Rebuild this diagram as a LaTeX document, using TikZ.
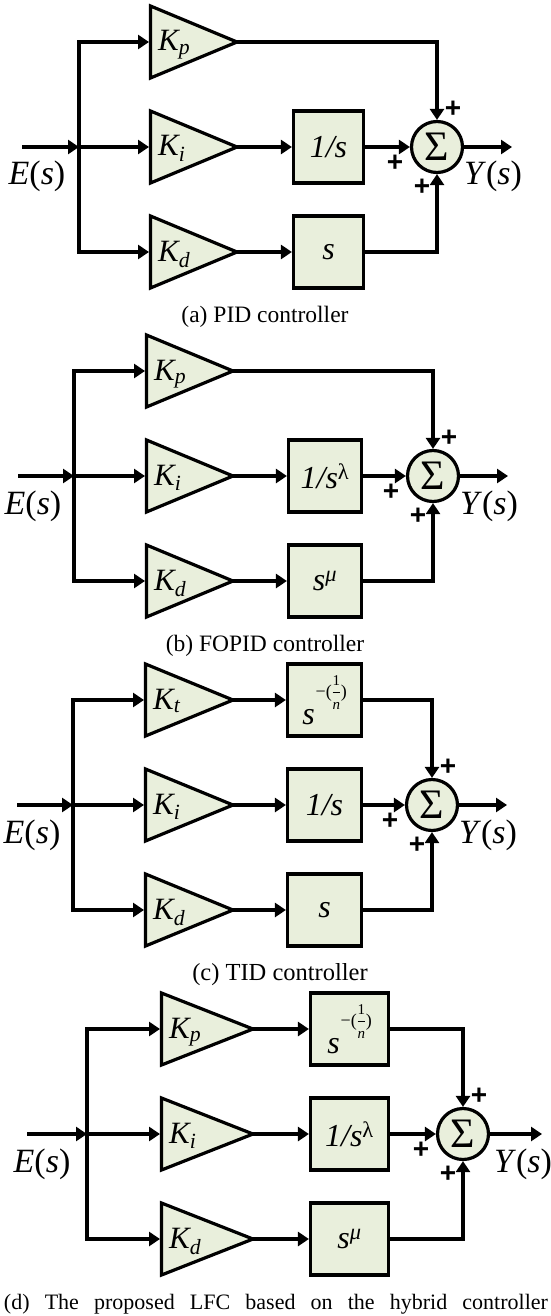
\documentclass[tikz,border=0pt]{standalone}
\usepackage{amsmath}
\usepackage{fontspec}
\setmainfont{Liberation Serif}
\newfontfamily\plusfont{Liberation Sans}
\usetikzlibrary{arrows.meta}
\definecolor{boxfill}{RGB}{233,239,220}
\tikzset{
  wire/.style={line width=3.2pt,line cap=rect},
  arr/.style={line width=3.2pt,-{Triangle[length=11pt,width=14pt]}},
  tri/.style={draw,line width=3.2pt,fill=boxfill,line join=miter},
  blk/.style={draw,line width=3.2pt,fill=boxfill,minimum height=72pt,inner sep=0pt,font=\fontsize{32}{32}\selectfont},
  sumc/.style={circle,draw,line width=3.2pt,fill=boxfill,minimum size=51pt,inner sep=0pt,font=\fontsize{42}{42}\selectfont},
  lab/.style={inner sep=0pt,font=\fontsize{31}{31}\selectfont},
  iolab/.style={inner sep=0pt,font=\fontsize{34}{34}\selectfont},
  plussign/.style={inner sep=0pt,font=\plusfont\bfseries\fontsize{28}{28}\selectfont},
  captxt/.style={inner sep=0pt,font=\fontsize{23.5}{23.5}\selectfont},
}
\newcommand\Kx[1]{$\textit{K}_{\textit{#1}}$}
\newcommand\fr[1]{\text{\fontsize{15}{15}\selectfont #1}}
\newcommand\snfrac{\textit{s}\kern1pt\raisebox{27pt}{\fontsize{18}{18}\selectfont −(\kern-0.5pt$\genfrac{}{}{0.9pt}{0}{\fr{1}}{\fr{\itshape n}}$\kern-0.5pt)}}
% #1 id, #2 yoffset, #3 top gain, #4 top box (may be empty), #5 mid box, #6 bottom box
\newcommand\mkpanel[6]{%
\begin{scope}[shift={(0,#2)}]
\pgfmathsetmacro\tla{\ptl+1.5}
\pgfmathsetmacro\bcx{(\pbl+\pbr)/2}
\pgfmathsetmacro\bw{\pbr-\pbl-3}
\foreach \yy in {42,147,252}{\draw[tri] (\tla,\yy-36) -- (\ptip-2,\yy) -- (\tla,\yy+36) -- cycle;}
\coordinate (#1b1) at (\pbus,42);
\coordinate (#1b2) at (\pbus,147);
\coordinate (#1b3) at (\pbus,252);
\coordinate (#1i1) at (\ptl,42);
\coordinate (#1i2) at (\ptl,147);
\coordinate (#1i3) at (\ptl,252);
\coordinate (#1o1) at (\ptip-3,42);
\coordinate (#1o2) at (\ptip-3,147);
\coordinate (#1o3) at (\ptip-3,252);
\coordinate (#1in) at (\pin,147);
\coordinate (#1out) at (\pout,147);
\node[lab,anchor=base west] (#1k1) at (\ptl+9,51) {#3};
\node[lab,anchor=base west] (#1k2) at (\ptl+9,156) {\Kx{i}};
\node[lab,anchor=base west] (#1k3) at (\ptl+9,261) {\Kx{d}};
\node[sumc] (#1s) at (\pcx,147) {Σ};
\node[blk,minimum width=\bw pt] (#1m2) at (\bcx,147) {#5};
\node[blk,minimum width=\bw pt] (#1m3) at (\bcx,252) {#6};
\draw[wire] (#1b1) -- (#1b3);
\draw[arr] (#1in) -- (#1b2);
\draw[arr] (#1b1) -- (#1i1);
\draw[arr] (#1b2) -- (#1i2);
\draw[arr] (#1b3) -- (#1i3);
\ifx\relax#4\relax
  \draw[arr] (#1o1) -| (#1s.north);
\else
  \node[blk,minimum width=\bw pt] (#1m1) at (\bcx,42) {#4};
  \draw[arr] (#1o1) -- (#1m1.west);
  \draw[arr] (#1m1.east) -| (#1s.north);
\fi
\draw[arr] (#1o2) -- (#1m2.west);
\draw[arr] (#1o3) -- (#1m3.west);
\draw[arr] (#1m2.east) -- (#1s.west);
\draw[arr] (#1m3.east) -| (#1s.south);
\draw[arr] (#1s.east) -- (#1out);
\node[plussign] (#1p1) at (\pcx+16,109) {+};
\node[plussign] (#1p2) at (\pcx-42,163) {+};
\node[plussign] (#1p3) at (\pcx-15,187) {+};
\node[iolab,anchor=base] (#1E) at (\pin+15,185) {\textit{E}(\textit{s})};
\node[iolab,anchor=base] (#1Y) at (\pout-19,185) {\textit{Y}(\textit{s})};
\end{scope}}
\begin{document}
\begin{tikzpicture}[x=1pt,y=-1pt]
\useasboundingbox (0,0) rectangle (551,1316);
% panel a
\def\pin{22}\def\pbus{79}\def\ptl{149}\def\ptip{239}\def\pbl{292}\def\pbr{365}\def\pcx{437}\def\pout{512}
\mkpanel{a}{0}{\Kx{p}}{}{\textit{1/s}}{\textit{s}}
\node[captxt] (capa) at (265,317) {(a) PID controller};
% panel b
\def\pin{18}\def\pbus{74}\def\ptl{145}\def\ptip{235}\def\pbl{287}\def\pbr{363}\def\pcx{433}\def\pout{508}
\mkpanel{b}{329}{\Kx{p}}{}{\textit{1/s}\textsuperscript{λ}}{\textit{s}\textsuperscript{\textit{μ}}}
\node[captxt] (capb) at (265,646) {(b) FOPID controller};
% panel c
\def\pin{17}\def\pbus{73}\def\ptl{144}\def\ptip{235}\def\pbl{286}\def\pbr{363}\def\pcx{432}\def\pout{507}
\mkpanel{c}{658}{\Kx{t}}{\snfrac}{\textit{1/s}}{\textit{s}}
\node[captxt,font=\fontsize{24.5}{24.5}\selectfont] (capc) at (280,975) {(c) TID controller};
% panel d
\def\pin{27}\def\pbus{87}\def\ptl{160}\def\ptip{255}\def\pbl{309}\def\pbr{390}\def\pcx{463}\def\pout{542}
\mkpanel{d}{987}{\Kx{p}}{\snfrac}{\textit{1/s}\textsuperscript{λ}}{\textit{s}\textsuperscript{\textit{μ}}}
\node[captxt,font=\fontsize{22}{22}\selectfont] (capd) at (276,1304) {\makebox[544pt][s]{(d) The proposed LFC based on the hybrid controller}};
\end{tikzpicture}
\end{document}
